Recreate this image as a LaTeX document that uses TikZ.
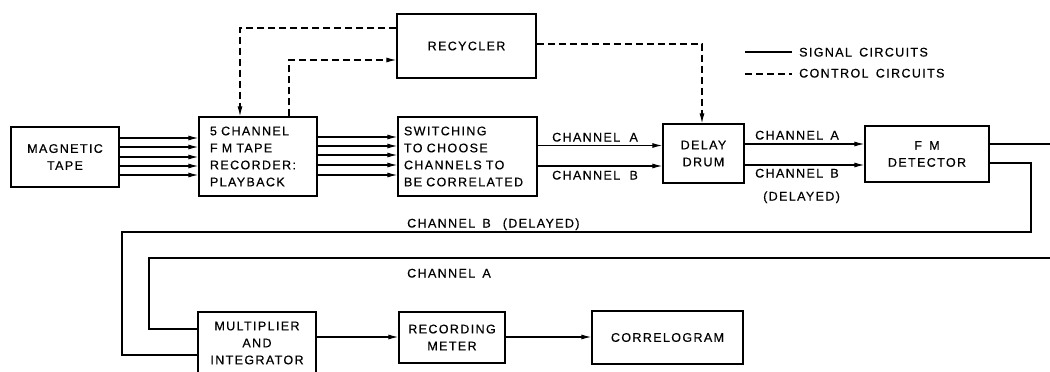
\documentclass[tikz,border=0pt]{standalone}
\usepackage{fontspec}
\newfontfamily\lab[LetterSpace=11,WordSpace=1.5,FakeBold=0.5]{Liberation Sans}
\usetikzlibrary{arrows.meta}
\begin{document}
\begin{tikzpicture}[x=1pt,y=-1pt,
  txt/.style={font=\lab\fontsize{12.5}{17}\selectfont},
  box/.style={draw, line width=1.3pt, inner sep=0pt, align=center, txt},
  lbox/.style={box, align=left},
  sig/.style={line width=1.1pt},
  ctl/.style={sig, dash pattern=on 7pt off 4pt},
  arr/.style={-{Latex[length=10pt,width=5pt]}},
  lbl/.style={txt, inner sep=0pt, anchor=base west}]
\useasboundingbox (0,0) rectangle (1050,372);
\clip (0,0) rectangle (1050,372);
% boxes
\node[box, minimum width=108pt, minimum height=60pt] (tape) at (65,157) {MAGNETIC\\TAPE};
\node[lbox, inner xsep=11pt, text width=96pt, minimum height=79pt] (rec) at (258,156.5) {5 CHANNEL\\F M TAPE\\RECORDER:\\PLAYBACK};
\node[lbox, inner xsep=6pt, text width=127pt, minimum height=79pt] (sw) at (467.5,156.5) {SWITCHING\\TO CHOOSE\\CHANNELS TO\\BE CORRELATED};
\node[box, minimum width=139pt, minimum height=64pt] (recy) at (466.5,46) {RECYCLER};
\node[box, minimum width=81pt, minimum height=59pt] (drum) at (703.5,153.5) {DELAY\\DRUM};
\node[box, minimum width=124pt, minimum height=56pt] (fm) at (927,154) {F M\\DETECTOR};
\node[box, minimum width=118pt, minimum height=62pt] (mult) at (257,343) {MULTIPLIER\\AND\\INTEGRATOR};
\node[box, minimum width=106pt, minimum height=51pt] (meter) at (452,337.5) {RECORDING\\METER};
\node[box, minimum width=151pt, minimum height=53pt] (corr) at (667.5,337.5) {CORRELOGRAM};
% tape -> recorder
\foreach \yy in {138,147,157,166,175}
  \draw[sig,arr] (tape.east |- 0,\yy) -- (rec.west |- 0,\yy);
% recorder -> switching
\foreach \yy in {137,146,155,165,175}
  \draw[sig,arr] (rec.east |- 0,\yy) -- (sw.west |- 0,\yy);
% switching -> drum
\draw[sig,arr] (sw.east |- 0,145.5) -- (drum.west |- 0,145.5);
\draw[sig,arr] (sw.east |- 0,166) -- (drum.west |- 0,166);
\node[lbl] (la1) at (552,141.5) {CHANNEL\, A};
\node[lbl] (lb1) at (552,179.5) {CHANNEL\, B};
% drum -> fm
\draw[sig,arr] (drum.east |- 0,144) -- (fm.west |- 0,144);
\draw[sig,arr] (drum.east |- 0,165) -- (fm.west |- 0,165);
\node[lbl] (la2) at (755,139.5) {CHANNEL A};
\node[lbl] (lb2) at (755,177.5) {CHANNEL B};
\node[lbl] (ld2) at (763,200.5) {(DELAYED)};
% fm outputs
\coordinate (outA) at (1050,144);
\draw[sig] (fm.east |- 0,144) -- (outA);
\coordinate (b1) at (1031,163);
\coordinate (b2) at (1031,232);
\coordinate (b3) at (122,232);
\coordinate (b4) at (122,355);
\draw[sig] (fm.east |- b1) -- (b1) -- (b2) -- (b3) -- (b4) -- (mult.west |- b4);
\coordinate (inA) at (1050,258);
\coordinate (a1) at (149,258);
\coordinate (a2) at (149,329);
\draw[sig] (inA) -- (a1) -- (a2) -- (mult.west |- a2);
\node[lbl] (lb3) at (407,227.5) {CHANNEL B\hspace{12pt}(DELAYED)};
\node[lbl] (la3) at (407,277.5) {CHANNEL A};
% bottom chain
\draw[sig,arr] (mult.east |- 0,337) -- (meter.west |- 0,337);
\draw[sig,arr] (meter.east |- 0,337) -- (corr.west |- 0,337);
% control circuits
\coordinate (c1) at (240,28);
\draw[ctl,arr] (recy.west |- c1) -- (c1) -- (c1 |- rec.north);
\coordinate (c2) at (289,60);
\draw[ctl,arr] (c2 |- rec.north) -- (c2) -- (recy.west |- c2);
\coordinate (c3) at (702,44);
\draw[ctl,arr] (recy.east |- c3) -- (c3) -- (c3 |- drum.north);
% legend
\coordinate (s1) at (745,52);
\coordinate (s2) at (792,52);
\draw[sig] (s1) -- (s2);
\coordinate (d1) at (745,74);
\coordinate (d2) at (792,74);
\draw[ctl] (d1) -- (d2);
\node[lbl] (lg1) at (799,56.5) {SIGNAL CIRCUITS};
\node[lbl] (lg2) at (799,77.5) {CONTROL CIRCUITS};
\end{tikzpicture}
\end{document}
